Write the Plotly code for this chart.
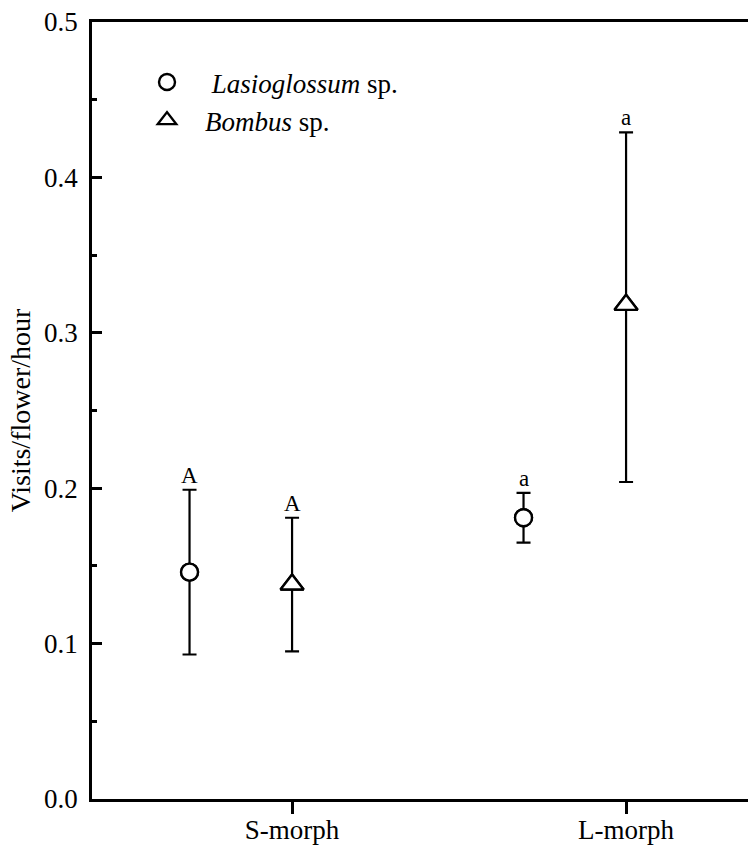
import plotly.graph_objects as go

categories = ["S-morph", "L-morph"]
cat_pos = [1, 2]
offset_lasio = -0.307

lasio_mean = [0.146, 0.181]
lasio_upper = [0.199, 0.197]
lasio_lower = [0.093, 0.165]

bombus_mean = [0.138, 0.318]
bombus_upper = [0.181, 0.429]
bombus_lower = [0.095, 0.204]

letters = ["A", "a"]

FONT = "Liberation Serif"

lasio_x = [p + offset_lasio for p in cat_pos]
bombus_x = list(cat_pos)

fig = go.Figure()
fig.add_trace(go.Scatter(
    x=lasio_x, y=lasio_mean, mode="markers",
    name="\u00a0<i>Lasioglossum</i> sp.",
    marker=dict(symbol="circle-open", size=17, color="black", line=dict(width=2.4, color="black")),
    error_y=dict(type="data", symmetric=False,
                 array=[u - m for u, m in zip(lasio_upper, lasio_mean)],
                 arrayminus=[m - l for m, l in zip(lasio_mean, lasio_lower)],
                 color="black", thickness=2.2, width=7),
))
fig.add_trace(go.Scatter(
    x=bombus_x, y=bombus_mean, mode="markers",
    name="<i>Bombus</i> sp.",
    marker=dict(symbol="triangle-up-open", size=20, color="black", line=dict(width=2.4, color="black")),
    error_y=dict(type="data", symmetric=False,
                 array=[u - m for u, m in zip(bombus_upper, bombus_mean)],
                 arrayminus=[m - l for m, l in zip(bombus_mean, bombus_lower)],
                 color="black", thickness=2.2, width=7),
))
# white-filled markers on top so error bars do not cross the symbols
fig.add_trace(go.Scatter(
    x=lasio_x, y=lasio_mean, mode="markers", showlegend=False, hoverinfo="skip",
    marker=dict(symbol="circle", size=17, color="white", line=dict(width=2.4, color="black")),
))
fig.add_trace(go.Scatter(
    x=bombus_x, y=bombus_mean, mode="markers", showlegend=False, hoverinfo="skip",
    marker=dict(symbol="triangle-up", size=20, color="white", line=dict(width=2.4, color="black")),
))

for i, letter in enumerate(letters):
    for xv, up in ((lasio_x[i], lasio_upper[i]), (bombus_x[i], bombus_upper[i])):
        fig.add_annotation(x=xv, y=up, text=letter, showarrow=False,
                           yanchor="bottom", yshift=0,
                           font=dict(family=FONT, size=23, color="black"))

fig.update_layout(
    width=760, height=845,
    margin=dict(l=92, r=0, t=22, b=46, autoexpand=False),
    plot_bgcolor="white", paper_bgcolor="white",
    font=dict(family=FONT, size=27, color="black"),
    showlegend=True,
    legend=dict(x=0.0554, y=0.9537, xanchor="left", yanchor="top",
                bgcolor="rgba(0,0,0,0)", font=dict(family=FONT, size=27),
                itemwidth=66, tracegroupgap=0),
    xaxis=dict(
        range=[0.401, 2.401], tickmode="array", tickvals=cat_pos, ticktext=categories,
        showgrid=False, zeroline=False, showline=True, linecolor="black", linewidth=2.8,
        mirror=True, ticks="outside", ticklen=12, tickwidth=2.5, tickcolor="black",
        tickfont=dict(family=FONT, size=27), ticklabeloverflow="allow", ticklabelstandoff=-7,
    ),
    yaxis=dict(
        range=[0, 0.5], dtick=0.1, tickformat=".1f",
        showgrid=False, zeroline=False, showline=True, linecolor="black", linewidth=2.8,
        ticks="inside", ticklen=10, tickwidth=2.5, tickcolor="black",
        tickfont=dict(family=FONT, size=27), ticklabelstandoff=6, ticklabeloverflow="allow",
        minor=dict(dtick=0.05, ticks="inside", ticklen=5, tickwidth=2.5, tickcolor="black"),
        title=dict(text="Visits/flower/hour", font=dict(family=FONT, size=28), standoff=6),
    ),
)

fig.write_html(
    "out.html",
    config={"displayModeBar": False},
    post_script="document.body.style.margin='0';document.body.style.overflow='hidden';",
)
